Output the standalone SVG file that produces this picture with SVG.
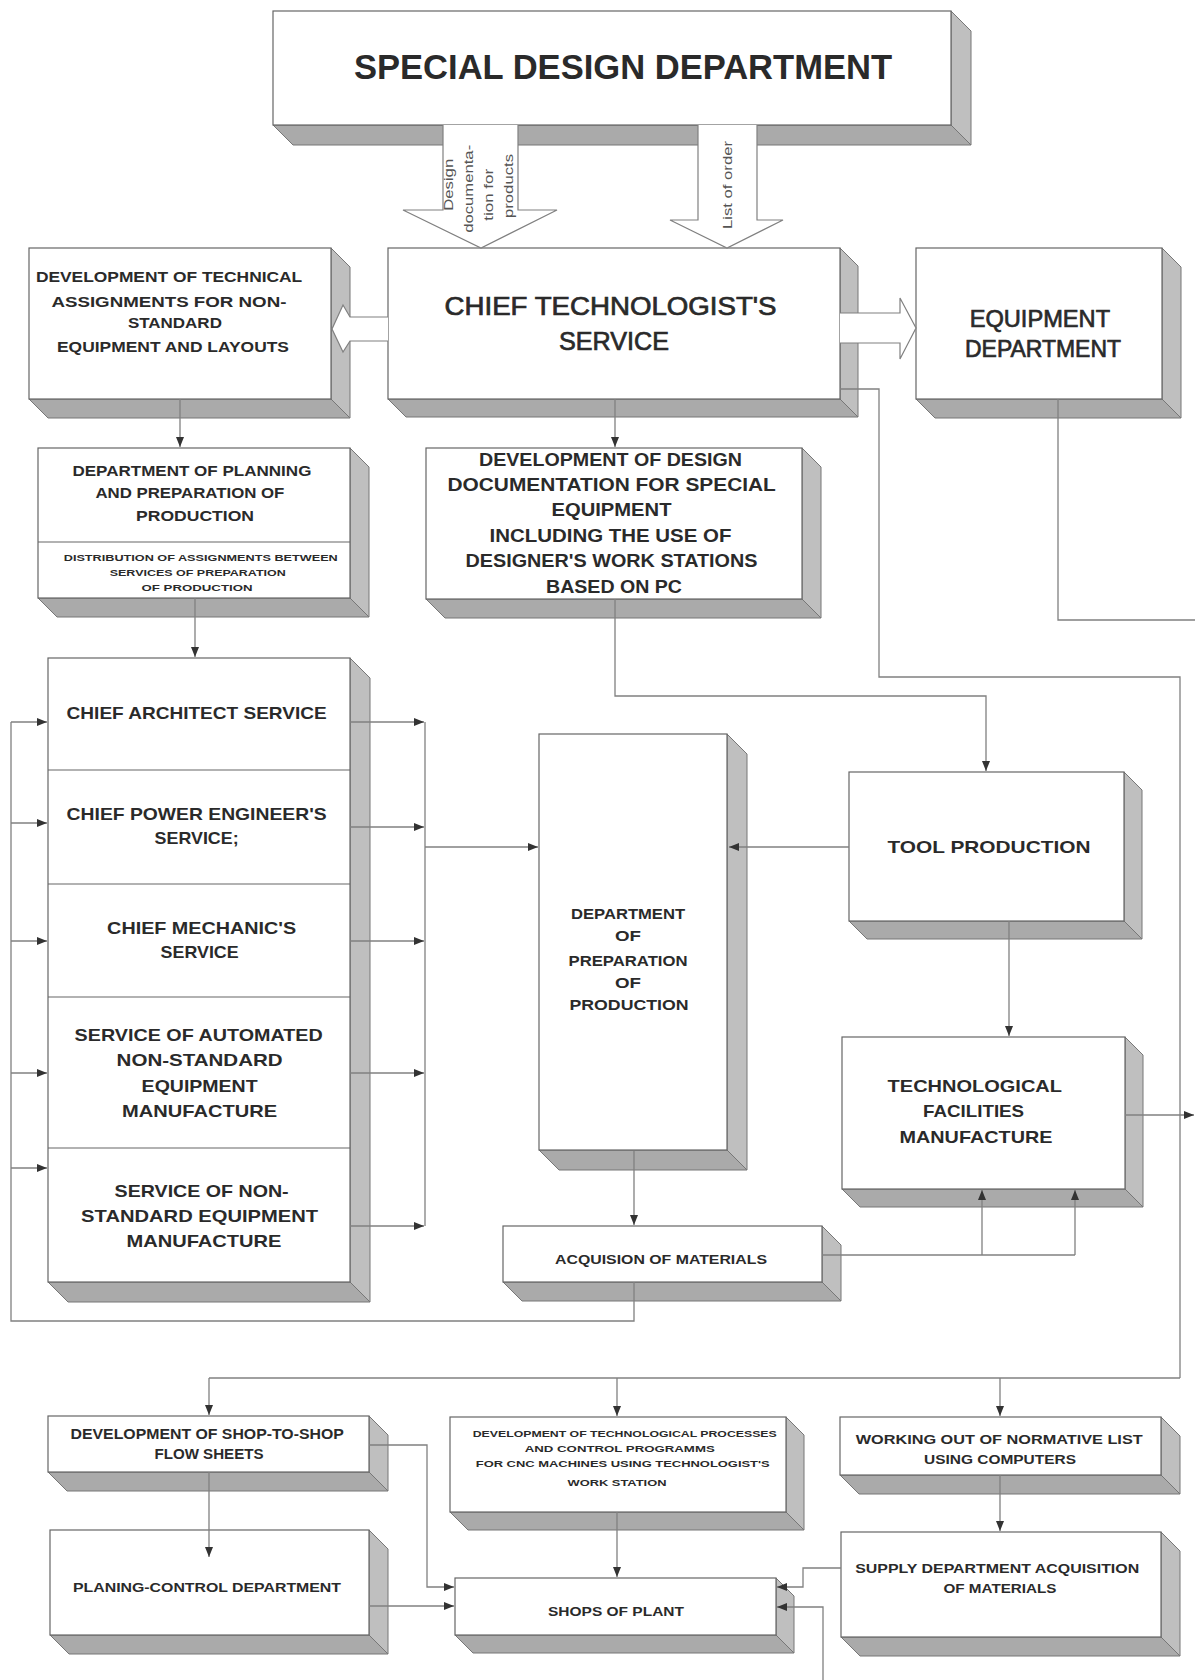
<svg xmlns="http://www.w3.org/2000/svg" width="1195" height="1680" viewBox="0 0 1195 1680">
<defs>
<style>
text { font-family: "Liberation Sans", Arial, sans-serif; fill: #2a2a2a; }
.t { font-weight: bold; text-anchor: middle; }
.m { font-weight: normal; text-anchor: middle; stroke: #2a2a2a; stroke-width: 0.7; }
.a { font-weight: normal; text-anchor: middle; fill: #555; font-size: 13px; }
.face { fill: #fff; stroke: #666; stroke-width: 1.2; }
.side { fill: #bfbfbf; stroke: #777; stroke-width: 1; }
.bot { fill: #aaaaaa; stroke: #777; stroke-width: 1; }
.div { stroke: #666; stroke-width: 1.2; }
.ln { fill: none; stroke: #808080; stroke-width: 1.3; }
.ar { marker-end: url(#ah); }
.hf { fill: #fff; stroke: none; }
.hl { fill: none; stroke: #808080; stroke-width: 1.2; }
</style>
<marker id="ah" viewBox="0 0 10 8" refX="10" refY="4" markerWidth="10" markerHeight="8" markerUnits="userSpaceOnUse" orient="auto">
<path d="M0,0 L10,4 L0,8 z" fill="#333"/>
</marker>
</defs>
<rect width="1195" height="1680" fill="#fff"/>

<g id="n-sdd">
<polygon class="side" points="951,11 971,31 971,145 951,125"/>
<polygon class="bot" points="273,125 951,125 971,145 293,145"/>
<rect class="face" x="273" y="11" width="678" height="114"/>
<text class="t" x="623" y="79" font-size="35" textLength="538" lengthAdjust="spacingAndGlyphs">SPECIAL DESIGN DEPARTMENT</text>
</g>

<g id="n-dta">
<polygon class="side" points="331,248 350,267 350,418 331,399"/>
<polygon class="bot" points="29,399 331,399 350,418 48,418"/>
<rect class="face" x="29" y="248" width="302" height="151"/>
<text class="t" font-size="15">
<tspan x="171" y="282" textLength="266" lengthAdjust="spacingAndGlyphs">DEVELOPMENT OF TECHNICAL</tspan>
<tspan x="171" y="307" textLength="235" lengthAdjust="spacingAndGlyphs">ASSIGNMENTS FOR NON-</tspan>
<tspan x="177" y="328" textLength="94" lengthAdjust="spacingAndGlyphs">STANDARD</tspan>
<tspan x="173" y="352" textLength="232" lengthAdjust="spacingAndGlyphs">EQUIPMENT AND LAYOUTS</tspan>
</text>
</g>

<g id="n-cts">
<polygon class="side" points="840,248 858,266 858,417 840,399"/>
<polygon class="bot" points="388,399 840,399 858,417 406,417"/>
<rect class="face" x="388" y="248" width="452" height="151"/>
<text class="m" font-size="25">
<tspan x="614" y="315" textLength="332" lengthAdjust="spacingAndGlyphs">CHIEF TECHNOLOGIST'S</tspan>
<tspan x="614" y="350" textLength="110" lengthAdjust="spacingAndGlyphs">SERVICE</tspan>
</text>
</g>

<g id="n-eq">
<polygon class="side" points="1162,248 1181,267 1181,418 1162,399"/>
<polygon class="bot" points="916,399 1162,399 1181,418 935,418"/>
<rect class="face" x="916" y="248" width="246" height="151"/>
<text class="m" font-size="24">
<tspan x="1043" y="327" textLength="140" lengthAdjust="spacingAndGlyphs">EQUIPMENT</tspan>
<tspan x="1043" y="357" textLength="156" lengthAdjust="spacingAndGlyphs">DEPARTMENT</tspan>
</text>
</g>

<g id="n-ppp">
<polygon class="side" points="350,448 369,467 369,617 350,598"/>
<polygon class="bot" points="38,598 350,598 369,617 57,617"/>
<rect class="face" x="38" y="448" width="312" height="150"/>
<line class="div" x1="38" y1="542" x2="350" y2="542"/>
<text class="t" font-size="15">
<tspan x="194" y="476" textLength="239" lengthAdjust="spacingAndGlyphs">DEPARTMENT OF PLANNING</tspan>
<tspan x="192" y="498" textLength="189" lengthAdjust="spacingAndGlyphs">AND PREPARATION OF</tspan>
<tspan x="195" y="521" textLength="118" lengthAdjust="spacingAndGlyphs">PRODUCTION</tspan>
</text>
<text class="t" font-size="9">
<tspan x="202" y="561" textLength="274" lengthAdjust="spacingAndGlyphs">DISTRIBUTION OF ASSIGNMENTS BETWEEN</tspan>
<tspan x="199" y="576" textLength="176" lengthAdjust="spacingAndGlyphs">SERVICES OF PREPARATION</tspan>
<tspan x="197" y="591" textLength="111" lengthAdjust="spacingAndGlyphs">OF PRODUCTION</tspan>
</text>
</g>

<g id="n-ddd">
<polygon class="side" points="802,448 821,467 821,618 802,599"/>
<polygon class="bot" points="426,599 802,599 821,618 445,618"/>
<rect class="face" x="426" y="448" width="376" height="151"/>
<text class="t" font-size="18">
<tspan x="613" y="466" textLength="263" lengthAdjust="spacingAndGlyphs">DEVELOPMENT OF DESIGN</tspan>
<tspan x="614" y="491" textLength="328" lengthAdjust="spacingAndGlyphs">DOCUMENTATION FOR SPECIAL</tspan>
<tspan x="614" y="516" textLength="120" lengthAdjust="spacingAndGlyphs">EQUIPMENT</tspan>
<tspan x="613" y="542" textLength="242" lengthAdjust="spacingAndGlyphs">INCLUDING THE USE OF</tspan>
<tspan x="614" y="567" textLength="292" lengthAdjust="spacingAndGlyphs">DESIGNER'S WORK STATIONS</tspan>
<tspan x="614" y="593" textLength="136" lengthAdjust="spacingAndGlyphs">BASED ON PC</tspan>
</text>
</g>

<g id="n-col">
<polygon class="side" points="350,658 370,678 370,1302 350,1282"/>
<polygon class="bot" points="48,1282 350,1282 370,1302 68,1302"/>
<rect class="face" x="48" y="658" width="302" height="624"/>
<line class="div" x1="48" y1="770" x2="350" y2="770"/>
<line class="div" x1="48" y1="884" x2="350" y2="884"/>
<line class="div" x1="48" y1="997" x2="350" y2="997"/>
<line class="div" x1="48" y1="1148" x2="350" y2="1148"/>
<text class="t" font-size="17">
<tspan x="199" y="719" textLength="260" lengthAdjust="spacingAndGlyphs">CHIEF ARCHITECT SERVICE</tspan>
<tspan x="199" y="820" textLength="260" lengthAdjust="spacingAndGlyphs">CHIEF POWER ENGINEER'S</tspan>
<tspan x="199" y="844" textLength="84" lengthAdjust="spacingAndGlyphs">SERVICE;</tspan>
<tspan x="204" y="934" textLength="189" lengthAdjust="spacingAndGlyphs">CHIEF MECHANIC'S</tspan>
<tspan x="202" y="958" textLength="78" lengthAdjust="spacingAndGlyphs">SERVICE</tspan>
<tspan x="201" y="1041" textLength="248" lengthAdjust="spacingAndGlyphs">SERVICE OF AUTOMATED</tspan>
<tspan x="202" y="1066" textLength="166" lengthAdjust="spacingAndGlyphs">NON-STANDARD</tspan>
<tspan x="202" y="1092" textLength="116" lengthAdjust="spacingAndGlyphs">EQUIPMENT</tspan>
<tspan x="202" y="1117" textLength="155" lengthAdjust="spacingAndGlyphs">MANUFACTURE</tspan>
<tspan x="204" y="1197" textLength="174" lengthAdjust="spacingAndGlyphs">SERVICE OF NON-</tspan>
<tspan x="202" y="1222" textLength="237" lengthAdjust="spacingAndGlyphs">STANDARD EQUIPMENT</tspan>
<tspan x="204" y="1247" textLength="155" lengthAdjust="spacingAndGlyphs">MANUFACTURE</tspan>
</text>
</g>

<g id="n-dpp">
<polygon class="side" points="727,734 747,754 747,1170 727,1150"/>
<polygon class="bot" points="539,1150 727,1150 747,1170 559,1170"/>
<rect class="face" x="539" y="734" width="188" height="416"/>
<text class="t" font-size="14">
<tspan x="630" y="919" textLength="114" lengthAdjust="spacingAndGlyphs">DEPARTMENT</tspan>
<tspan x="630" y="941" textLength="26" lengthAdjust="spacingAndGlyphs">OF</tspan>
<tspan x="630" y="966" textLength="119" lengthAdjust="spacingAndGlyphs">PREPARATION</tspan>
<tspan x="630" y="988" textLength="26" lengthAdjust="spacingAndGlyphs">OF</tspan>
<tspan x="629" y="1010" textLength="119" lengthAdjust="spacingAndGlyphs">PRODUCTION</tspan>
</text>
</g>

<g id="n-tp">
<polygon class="side" points="1124,772 1142,790 1142,939 1124,921"/>
<polygon class="bot" points="849,921 1124,921 1142,939 867,939"/>
<rect class="face" x="849" y="772" width="275" height="149"/>
<text class="t" font-size="17" x="989" y="853" textLength="203" lengthAdjust="spacingAndGlyphs">TOOL PRODUCTION</text>
</g>

<g id="n-tfm">
<polygon class="side" points="1125,1037 1143,1055 1143,1207 1125,1189"/>
<polygon class="bot" points="842,1189 1125,1189 1143,1207 860,1207"/>
<rect class="face" x="842" y="1037" width="283" height="152"/>
<text class="t" font-size="17">
<tspan x="977" y="1092" textLength="174" lengthAdjust="spacingAndGlyphs">TECHNOLOGICAL</tspan>
<tspan x="976" y="1117" textLength="101" lengthAdjust="spacingAndGlyphs">FACILITIES</tspan>
<tspan x="976" y="1143" textLength="153" lengthAdjust="spacingAndGlyphs">MANUFACTURE</tspan>
</text>
</g>

<g id="n-acq">
<polygon class="side" points="822,1226 841,1245 841,1301 822,1282"/>
<polygon class="bot" points="503,1282 822,1282 841,1301 522,1301"/>
<rect class="face" x="503" y="1226" width="319" height="56"/>
<text class="t" font-size="12" x="661" y="1264" textLength="212" lengthAdjust="spacingAndGlyphs">ACQUISION OF MATERIALS</text>
</g>

<g id="n-dss">
<polygon class="side" points="369,1416 388,1435 388,1491 369,1472"/>
<polygon class="bot" points="48,1472 369,1472 388,1491 67,1491"/>
<rect class="face" x="48" y="1416" width="321" height="56"/>
<text class="t" font-size="14">
<tspan x="209" y="1439" textLength="273" lengthAdjust="spacingAndGlyphs">DEVELOPMENT OF SHOP-TO-SHOP</tspan>
<tspan x="209" y="1459" textLength="109" lengthAdjust="spacingAndGlyphs">FLOW SHEETS</tspan>
</text>
</g>

<g id="n-pcd">
<polygon class="side" points="369,1530 388,1549 388,1654 369,1635"/>
<polygon class="bot" points="50,1635 369,1635 388,1654 69,1654"/>
<rect class="face" x="50" y="1530" width="319" height="105"/>
<text class="t" font-size="13" x="207" y="1592" textLength="268" lengthAdjust="spacingAndGlyphs">PLANING-CONTROL DEPARTMENT</text>
</g>

<g id="n-dtp">
<polygon class="side" points="786,1417 804,1435 804,1530 786,1512"/>
<polygon class="bot" points="450,1512 786,1512 804,1530 468,1530"/>
<rect class="face" x="450" y="1417" width="336" height="95"/>
<text class="t" font-size="9">
<tspan x="626" y="1437" textLength="304" lengthAdjust="spacingAndGlyphs">DEVELOPMENT OF TECHNOLOGICAL PROCESSES</tspan>
<tspan x="621" y="1452" textLength="190" lengthAdjust="spacingAndGlyphs">AND CONTROL PROGRAMMS</tspan>
<tspan x="624" y="1467" textLength="294" lengthAdjust="spacingAndGlyphs">FOR CNC MACHINES USING TECHNOLOGIST'S</tspan>
<tspan x="617" y="1486" textLength="99" lengthAdjust="spacingAndGlyphs">WORK STATION</tspan>
</text>
</g>

<g id="n-shops">
<polygon class="side" points="776,1578 794,1596 794,1653 776,1635"/>
<polygon class="bot" points="455,1635 776,1635 794,1653 473,1653"/>
<rect class="face" x="455" y="1578" width="321" height="57"/>
<text class="t" font-size="13" x="616" y="1616" textLength="136" lengthAdjust="spacingAndGlyphs">SHOPS OF PLANT</text>
</g>

<g id="n-wnl">
<polygon class="side" points="1161,1417 1180,1436 1180,1494 1161,1475"/>
<polygon class="bot" points="840,1475 1161,1475 1180,1494 859,1494"/>
<rect class="face" x="840" y="1417" width="321" height="58"/>
<text class="t" font-size="13">
<tspan x="1001" y="1444" textLength="287" lengthAdjust="spacingAndGlyphs">WORKING OUT OF NORMATIVE LIST</tspan>
<tspan x="1000" y="1464" textLength="152" lengthAdjust="spacingAndGlyphs">USING COMPUTERS</tspan>
</text>
</g>

<g id="n-sda">
<polygon class="side" points="1161,1532 1180,1551 1180,1656 1161,1637"/>
<polygon class="bot" points="841,1637 1161,1637 1180,1656 860,1656"/>
<rect class="face" x="841" y="1532" width="320" height="105"/>
<text class="t" font-size="13">
<tspan x="999" y="1573" textLength="284" lengthAdjust="spacingAndGlyphs">SUPPLY DEPARTMENT ACQUISITION</tspan>
<tspan x="1000" y="1593" textLength="113" lengthAdjust="spacingAndGlyphs">OF MATERIALS</tspan>
</text>
</g>

<g id="connectors">
<polygon class="hf" points="443,125 443,210 403,210 481,248 557,210 518,210 518,125"/>
<polyline class="hl" points="443,125 443,210 403,210 481,248 557,210 518,210 518,125"/>
<text class="a" transform="translate(481,187) rotate(-90)">
<tspan x="4" y="-28" textLength="52" lengthAdjust="spacingAndGlyphs">Design</tspan>
<tspan x="0" y="-8" textLength="88" lengthAdjust="spacingAndGlyphs">documenta-</tspan>
<tspan x="-6" y="12" textLength="52" lengthAdjust="spacingAndGlyphs">tion for</tspan>
<tspan x="1" y="32" textLength="64" lengthAdjust="spacingAndGlyphs">products</tspan>
</text>
<polygon class="hf" points="698,125 698,220 670,220 727,248 783,220 757,220 757,125"/>
<polyline class="hl" points="698,125 698,220 670,220 727,248 783,220 757,220 757,125"/>
<text class="a" transform="translate(727,185) rotate(-90)" x="0" y="5" textLength="88" lengthAdjust="spacingAndGlyphs">List of order</text>
<polygon class="hf" points="388,317 350,317 343,305 332,329 343,352 350,341 388,341"/>
<polyline class="hl" points="388,317 350,317 343,305 332,329 343,352 350,341 388,341"/>
<polygon class="hf" points="840,313 900,313 900,298 916,328 900,359 900,343 840,343"/>
<polyline class="hl" points="840,313 900,313 900,298 916,328 900,359 900,343 840,343"/>

<line class="ln ar" x1="180" y1="399" x2="180" y2="447"/>
<line class="ln ar" x1="195" y1="598" x2="195" y2="657"/>
<line class="ln ar" x1="615" y1="399" x2="615" y2="447"/>
<polyline class="ln ar" points="615,599 615,696 986,696 986,771"/>
<polyline class="ln" points="840,389 879,389 879,677 1180,677 1180,1378"/>
<polyline class="ln" points="1058,399 1058,620 1195,620"/>

<line class="ln ar" x1="350" y1="722" x2="424" y2="722"/>
<line class="ln ar" x1="350" y1="827" x2="424" y2="827"/>
<line class="ln ar" x1="350" y1="941" x2="424" y2="941"/>
<line class="ln ar" x1="350" y1="1073" x2="424" y2="1073"/>
<line class="ln ar" x1="350" y1="1226" x2="424" y2="1226"/>
<line class="ln" x1="425" y1="722" x2="425" y2="1226"/>
<line class="ln ar" x1="425" y1="847" x2="538" y2="847"/>

<polyline class="ln" points="634,1282 634,1321 11,1321 11,722"/>
<line class="ln ar" x1="11" y1="722" x2="47" y2="722"/>
<line class="ln ar" x1="11" y1="823" x2="47" y2="823"/>
<line class="ln ar" x1="11" y1="941" x2="47" y2="941"/>
<line class="ln ar" x1="11" y1="1073" x2="47" y2="1073"/>
<line class="ln ar" x1="11" y1="1168" x2="47" y2="1168"/>

<line class="ln ar" x1="849" y1="847" x2="729" y2="847"/>
<line class="ln ar" x1="1009" y1="921" x2="1009" y2="1036"/>
<line class="ln ar" x1="1125" y1="1115" x2="1194" y2="1115"/>
<line class="ln ar" x1="634" y1="1151" x2="634" y2="1225"/>
<line class="ln" x1="822" y1="1255" x2="1075" y2="1255"/>
<line class="ln ar" x1="982" y1="1255" x2="982" y2="1190"/>
<line class="ln ar" x1="1075" y1="1255" x2="1075" y2="1190"/>

<line class="ln" x1="209" y1="1378" x2="1180" y2="1378"/>
<line class="ln ar" x1="209" y1="1378" x2="209" y2="1415"/>
<line class="ln ar" x1="617" y1="1378" x2="617" y2="1416"/>
<line class="ln ar" x1="1000" y1="1378" x2="1000" y2="1416"/>

<line class="ln ar" x1="209" y1="1472" x2="209" y2="1557"/>
<polyline class="ln ar" points="369,1445 427,1445 427,1587 454,1587"/>
<line class="ln ar" x1="369" y1="1606" x2="454" y2="1606"/>
<line class="ln ar" x1="617" y1="1512" x2="617" y2="1577"/>
<line class="ln ar" x1="1000" y1="1475" x2="1000" y2="1531"/>
<polyline class="ln ar" points="841,1568 803,1568 803,1587 777,1587"/>
<polyline class="ln ar" points="823,1680 823,1607 777,1607"/>
</g>
</svg>
